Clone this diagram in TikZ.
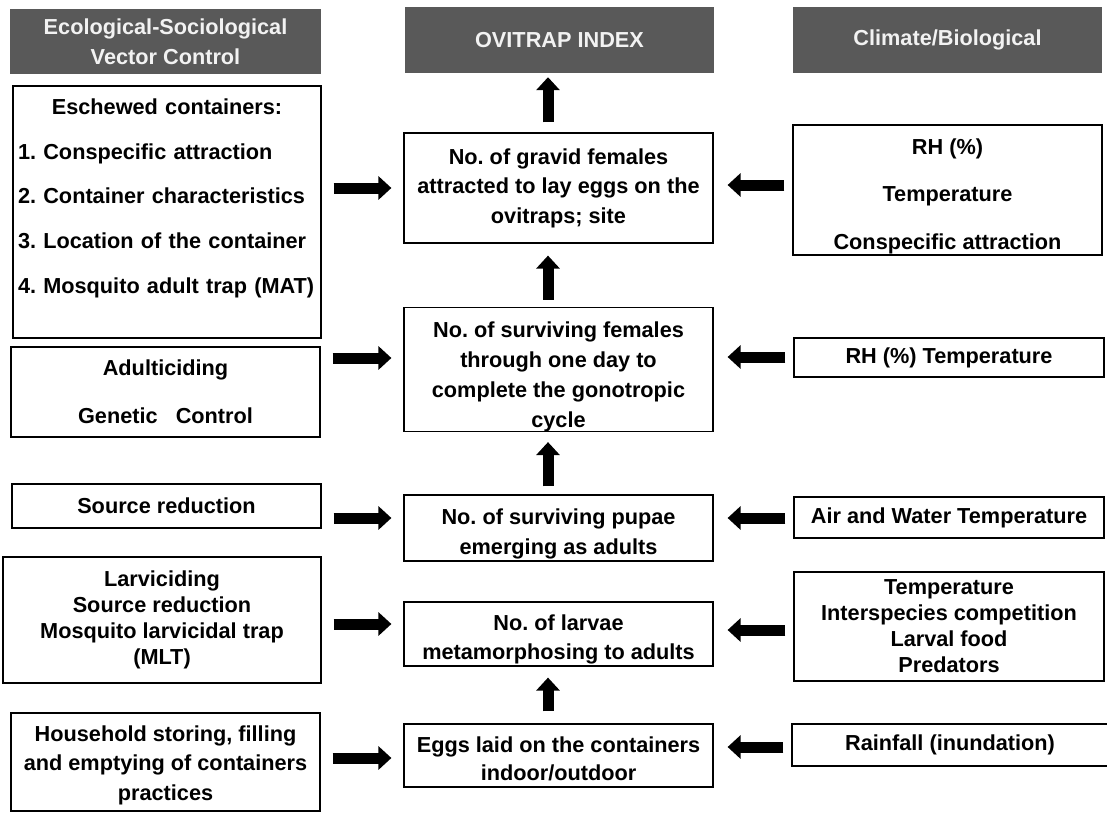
\documentclass[tikz,border=0pt]{standalone}
\usepackage{fontspec}
\setmainfont{Liberation Sans}
\usetikzlibrary{arrows.meta}
\definecolor{hdrgray}{RGB}{89,89,89}
\setlength{\parindent}{0pt}
\newcommand{\boxfont}[1]{\fontsize{21.7}{#1}\selectfont\bfseries\frenchspacing}
\newcommand{\lift}[1]{\rule{0pt}{#1}}

\begin{document}
\begin{tikzpicture}[x=1pt,y=-1pt,
    hdr/.style={fill=hdrgray,text=white!95!black,align=center,inner sep=0,
        minimum width=309,minimum height=66,font=\boxfont{30}},
    box/.style={draw,line width=1.2pt,align=center,inner sep=0},
    fat/.style={line width=11pt,-{Triangle[length=13pt,width=23pt]}},
    fatl/.style={fat,shorten <=12pt,shorten >=12pt},
    fatr/.style={fat,shorten <=8pt,shorten >=14pt}]
    \useasboundingbox (0,0) rectangle (1107,814);

    \node[hdr,minimum width=311,minimum height=65] (vchead) at (165.5,41.5) {Ecological-Sociological\\Vector Control};
    \node[hdr] (ovihead) at (559.5,40) {OVITRAP INDEX};
    \node[hdr] (climhead) at (947.5,40) {Climate/Biological};

    \node[box,minimum width=308,minimum height=252,text width=298pt,inner xsep=5pt,align=left,font=\boxfont{44.75}] (eschew) at (167,212)
        {\centering Eschewed containers:\par\raggedright
         1. Conspecific attraction\par
         2. Container characteristics\par
         3. Location of the container\par
         4. Mosquito adult trap (MAT)\rule[-32pt]{0pt}{1pt}};
    \node[box,minimum width=309,minimum height=90,font=\boxfont{48}] (adult) at (165.5,392) {Adulticiding\\Genetic\ \ \ Control};
    \node[box,minimum width=309,minimum height=44,font=\boxfont{26}] (source) at (166.5,506) {Source reduction};
    \node[box,minimum width=318,minimum height=126,font=\boxfont{26}] (larvi) at (162,620) {Larviciding\\Source reduction\\Mosquito larvicidal trap\\(MLT)};
    \node[box,minimum width=309,minimum height=98,font=\boxfont{29.5}] (house) at (165.5,762) {\lift{21.5pt}Household storing, filling\\and emptying of containers\\practices};

    \node[box,minimum width=309,minimum height=110,font=\boxfont{29.5}] (gravid) at (558.5,188) {No. of gravid females\\attracted to lay eggs on the\\ovitraps; site};
    \node[box,minimum width=309,minimum height=121,font=\boxfont{30}] (females) at (558.5,369.5) {\lift{29.5pt}No. of surviving females\\through one day to\\complete the gonotropic\\cycle};
    \node[box,minimum width=309,minimum height=66,font=\boxfont{30}] (pupae) at (558.5,528) {\lift{27.5pt}No. of surviving pupae\\emerging as adults};
    \node[box,minimum width=309,minimum height=64,font=\boxfont{29}] (larvae) at (558.5,634) {\lift{27.5pt}No. of larvae\\metamorphosing to adults};
    \node[box,minimum width=309,minimum height=63,font=\boxfont{28}] (eggs) at (558.5,755.5) {\lift{21.5pt}Eggs laid on the containers\\indoor/outdoor};

    \node[box,minimum width=309,minimum height=130,font=\boxfont{47.5}] (climate) at (947.5,190) {\lift{27.5pt}RH (\%)\\Temperature\\Conspecific attraction};
    \node[box,minimum width=310,minimum height=39,font=\boxfont{26}] (rhtemp) at (949,357.5) {RH (\%) Temperature};
    \node[box,minimum width=310,minimum height=41,font=\boxfont{26}] (airwater) at (949,517.5) {Air and Water Temperature};
    \node[box,minimum width=310,minimum height=109,font=\boxfont{26}] (larvfac) at (949,626.5) {Temperature\\Interspecies competition\\Larval food\\Predators};
    \node[box,minimum width=316,minimum height=42,font=\boxfont{26}] (rain) at (950,745) {Rainfall (inundation)};

    \draw[fat,shorten <=10pt,shorten >=4pt] ([xshift=-10.5pt]gravid.north) -- ([xshift=-10.5pt]gravid.north |- ovihead.south);
    \draw[fat,shorten <=7pt,shorten >=12pt] ([xshift=-10.5pt]females.north) -- ([xshift=-10.5pt]gravid.south);
    \draw[fat,shorten <=8pt,shorten >=10pt] ([xshift=-10.5pt]pupae.north) -- ([xshift=-10.5pt]females.south);
    \draw[fat,shorten <=12pt,shorten >=11pt] ([xshift=-10.5pt]eggs.north) -- ([xshift=-10.5pt]larvae.south);

    \draw[fatl] (gravid.west -| eschew.east) -- (gravid.west);
    \draw[fatl] ([yshift=11.5pt]females.west -| adult.east) -- ([yshift=11.5pt]females.west);
    \draw[fatl] ([yshift=10pt]pupae.west -| source.east) -- ([yshift=10pt]pupae.west);
    \draw[fatl] ([yshift=10pt]larvae.west -| larvi.east) -- ([yshift=10pt]larvae.west);
    \draw[fatl] ([yshift=-2.5pt]eggs.west -| house.east) -- ([yshift=-2.5pt]eggs.west);

    \draw[fatr] ([yshift=3pt]gravid.east -| climate.west) -- ([yshift=3pt]gravid.east);
    \draw[fatr] ([yshift=12.5pt]females.east -| rhtemp.west) -- ([yshift=12.5pt]females.east);
    \draw[fatr] ([yshift=10pt]pupae.east -| airwater.west) -- ([yshift=10pt]pupae.east);
    \draw[fatr] ([yshift=4pt]larvae.east -| larvfac.west) -- ([yshift=4pt]larvae.east);
    \draw[fatr] ([yshift=8.5pt]eggs.east -| rain.west) -- ([yshift=8.5pt]eggs.east);
\end{tikzpicture}
\end{document}
